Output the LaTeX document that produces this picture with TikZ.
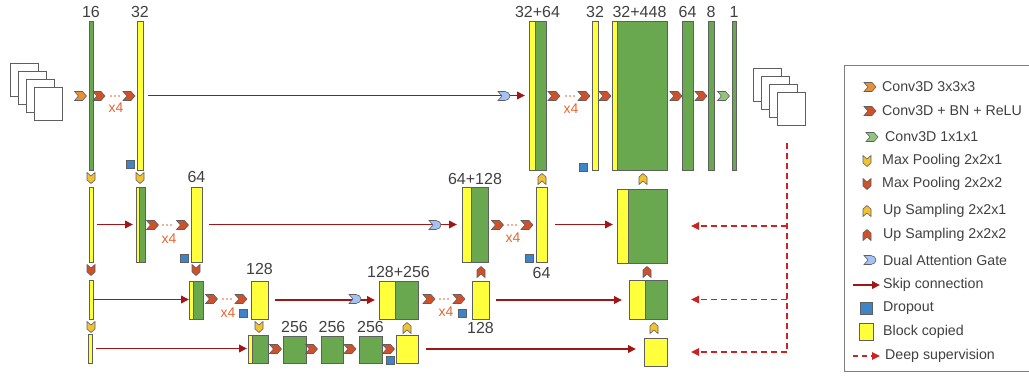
\documentclass[tikz,border=0pt]{standalone}
\usepackage{fontspec}
\setmainfont{Liberation Sans}
\usetikzlibrary{arrows.meta,calc}
\definecolor{gr}{HTML}{6AA84F}
\definecolor{yl}{HTML}{FFFF3C}
\definecolor{ol}{HTML}{5F5F5F}
\definecolor{cor}{HTML}{E69138}
\definecolor{cred}{HTML}{D0502A}
\definecolor{clg}{HTML}{93C47D}
\definecolor{cyl}{HTML}{F1C232}
\definecolor{cdag}{HTML}{A4C2F4}
\definecolor{cdrop}{HTML}{3D85C6}
\definecolor{skipc}{HTML}{A01515}
\definecolor{deepc}{HTML}{CC2222}
\definecolor{xfour}{HTML}{E2662F}
\definecolor{txt}{HTML}{404040}
\newcommand\blk[6]{\node[blk,fill=#6,minimum width={(#4-#2)*1pt},minimum height={(#5-#3)*1pt},anchor=north west] (#1) at (#2,#3) {};}
\tikzset{
 blk/.style={draw=ol,line width=0.8pt,inner sep=0pt,outer sep=0pt},
 chv/.style={draw=ol,line width=0.6pt,line join=miter},
 chevR/.pic={\path[chv,pic actions] (-6,-4.5) -- (2,-4.5) -- (6,0) -- (2,4.5) -- (-6,4.5) -- (-2,0) -- cycle;},
 chevD/.pic={\path[chv,pic actions] (-4,-5.5) -- (0,-2) -- (4,-5.5) -- (4,2) -- (0,5.5) -- (-4,2) -- cycle;},
 chevU/.pic={\path[chv,pic actions] (-4,5.5) -- (0,2) -- (4,5.5) -- (4,-2) -- (0,-5.5) -- (-4,-2) -- cycle;},
 dagc/.pic={\path[chv,pic actions] (-6,-4.5) -- (1,-4.5) .. controls (4,-4.5) and (6,-2) .. (6,0) .. controls (6,2) and (4,4.5) .. (1,4.5) -- (-6,4.5) -- (-2,0) -- cycle;},
 lbl/.style={font=\fontsize{16}{16}\selectfont,text=txt,inner sep=0pt},
 xf/.style={font=\fontsize{14}{14}\selectfont,text=xfour,inner sep=0pt},
 dts/.style={draw=xfour,line width=1.7pt,line cap=round,dash pattern=on 0pt off 4pt},
 skip/.style={draw=skipc,line width=1.9pt,-{Triangle[length=8pt,width=7.5pt]}},
 deep/.style={draw=deepc,line width=1.6pt,dash pattern=on 6pt off 4pt},
 deeparr/.style={deep,-{Triangle[length=8pt,width=7.5pt]}},
 drop/.style={draw=ol,fill=cdrop,line width=0.5pt,inner sep=0pt,minimum size=8pt},
 img/.style={draw=ol,fill=white,line width=0.8pt,minimum width=28pt,minimum height=33pt,inner sep=0pt,anchor=north west},
 leg/.style={font=\fontsize{14.2}{14.2}\selectfont,text=txt,anchor=west,inner sep=0pt},
}
\begin{document}
\begin{tikzpicture}[x=1pt,y=-1pt]
\useasboundingbox (0,0) rectangle (1029,376);
% input / output stacks
\node[img] (in1) at (10,63) {};
\node[img] (in2) at (18,71) {};
\node[img] (in3) at (26,79) {};
\node[img] (in4) at (34,87) {};
\node[img] (out1) at (753,68) {};
\node[img] (out2) at (761,76) {};
\node[img] (out3) at (769,84) {};
\node[img] (out4) at (777,92) {};
% row 1
\blk{g16}{89}{21}{93}{170}{gr}
\blk{y32}{137}{21}{143}{170}{yl}
\blk{d1a}{529}{21}{535}{170}{yl}
\blk{d1b}{535}{21}{546}{170}{gr}
\blk{y32b}{592}{21}{598}{170}{yl}
\blk{d0a}{612}{21}{617}{170}{yl}
\blk{d0b}{617}{21}{667}{170}{gr}
\blk{g64}{682}{21}{693}{170}{gr}
\blk{g8}{708}{21}{714}{170}{gr}
\blk{g1}{732}{21}{736}{170}{gr}
% row 2
\blk{e2a}{89}{187}{93}{262}{yl}
\blk{e2b}{136}{187}{139}{262}{yl}
\blk{e2bg}{139}{187}{145}{262}{gr}
\blk{e2c}{191}{187}{202}{262}{yl}
\blk{d2a}{462}{187}{471}{262}{yl}
\blk{d2ag}{471}{187}{488}{262}{gr}
\blk{d2b}{536}{187}{547}{262}{yl}
\blk{f2a}{617}{189}{628}{263}{yl}
\blk{f2b}{628}{189}{667}{263}{gr}
% row 3
\blk{e3a}{89}{280}{93}{319}{yl}
\blk{e3b}{189}{281}{193}{319}{yl}
\blk{e3bg}{193}{281}{203}{319}{gr}
\blk{e3c}{251}{281}{268}{319}{yl}
\blk{d3a}{379}{281}{395}{319}{yl}
\blk{d3ag}{395}{281}{418}{319}{gr}
\blk{d3b}{472}{281}{489}{319}{yl}
\blk{f3a}{629}{280}{645}{319}{yl}
\blk{f3b}{645}{280}{667}{319}{gr}
% row 4
\blk{e4a}{88}{334}{92}{363}{yl}
\blk{e4b}{248}{335}{252}{363}{yl}
\blk{e4bg}{252}{335}{268}{363}{gr}
\blk{b1}{283}{336}{306}{363}{gr}
\blk{b2}{321}{336}{343}{363}{gr}
\blk{b3}{359}{336}{382}{363}{gr}
\blk{e4c}{396}{335}{418}{363}{yl}
\blk{f4}{644}{338}{667}{366}{yl}
% labels
\node[lbl,above=3pt] at (g16.north) {16};
\node[lbl,above=3pt] at (y32.north) {32};
\node[lbl,above=3pt] at ($(d1a.north west)!.5!(d1b.north east)$) {32+64};
\node[lbl,above=3pt] at (y32b.north) {32};
\node[lbl,above=3pt] at ($(d0a.north west)!.5!(d0b.north east)$) {32+448};
\node[lbl,above=3pt] at (g64.north) {64};
\node[lbl,above=3pt] at (g8.north) {8};
\node[lbl,above=3pt] at (g1.north) {1};
\node[lbl,above=4pt] at (e2c.north) {64};
\node[lbl,above=2pt] at ($(d2a.north west)!.5!(d2ag.north east)$) {64+128};
\node[lbl,below=5pt] at (d2b.south) {64};
\node[lbl,above=6pt] at (e3c.north) {128};
\node[lbl,above=3pt] at ($(d3a.north west)!.5!(d3ag.north east)$) {128+256};
\node[lbl,below=3pt] at (d3b.south) {128};
\node[lbl,above=3pt] at (b1.north) {256};
\node[lbl,above=3pt] at (b2.north) {256};
\node[lbl,above=3pt] at (b3.north) {256};
% skip connections
\draw[skip,shorten <=5pt,shorten >=4pt] (y32.east) -- (d1a.west);
\draw[skip,shorten <=4pt,shorten >=3pt] (e2a.east) -- (e2b.west);
\draw[skip,shorten <=7pt,shorten >=5pt] (e2c.east) -- (d2a.west);
\draw[skip,shorten <=8pt,shorten >=4pt] (d2b.east) -- (d2b.east -| f2a.west);
\draw[skip] (e3a.east) -- (e3a.east -| e3b.west);
\draw[skip,shorten <=7pt,shorten >=4pt] (e3c.east) -- (d3a.west);
\draw[skip,shorten <=7pt,shorten >=7pt] (d3b.east) -- (d3b.east -| f3a.west);
\draw[skip,shorten <=4pt,shorten >=1pt] (e4a.east) -- (e4a.east -| e4b.west);
\draw[skip,shorten <=8pt,shorten >=8pt] (e4c.east) -- (e4c.east -| f4.west);
% deep supervision
\coordinate (ds) at (787,143);
\draw[deep] (ds) -- (ds |- f4.east);
\draw[deeparr,shorten >=24pt] (ds |- f2b.east) -- (f2b.east);
\draw[deeparr,shorten >=24pt] (ds |- f3b.east) -- (f3b.east);
\draw[deeparr,shorten >=24pt] (ds |- f4.east) -- (f4.east);
% attention gates
\pic[fill=cdag] at (504,96) {dagc};
\pic[fill=cdag] at (435,225) {dagc};
\pic[fill=cdag] at (355,299) {dagc};
% row 1 chevrons
\pic[fill=cor] at (80.5,96) {chevR};
\pic[fill=cred] at (99,96) {chevR};
\draw[dts] (111,96) -- (120,96);
\pic[fill=cred] at (129,96) {chevR};
\node[xf] (x1) at (116,108) {x4};
\pic[fill=cred] at (554,96) {chevR};
\draw[dts] (566,96) -- (575,96);
\pic[fill=cred] at (584,96) {chevR};
\node[xf] (x2) at (571,109) {x4};
\pic[fill=cred] at (605,96) {chevR};
\pic[fill=cred] at (676,96) {chevR};
\pic[fill=cred] at (701,96) {chevR};
\pic[fill=clg] at (723.5,96) {chevR};
\node[drop] (dr1) at (130.5,164.5) {};
\node[drop] (dr2) at (583,167) {};
% row 2 chevrons
\pic[fill=cred] at (152.5,225) {chevR};
\draw[dts] (163,225) -- (172,225);
\pic[fill=cred] at (182.5,225) {chevR};
\node[xf] (x3) at (169,239) {x4};
\node[drop] (dr3) at (184,258) {};
\pic[fill=cred] at (497.5,225) {chevR};
\draw[dts] (508,225) -- (517,225);
\pic[fill=cred] at (527,225) {chevR};
\node[xf] (x4) at (513,238) {x4};
\node[drop] (dr4) at (529,258) {};
% row 3 chevrons
\pic[fill=cred] at (211.5,299) {chevR};
\draw[dts] (223,299) -- (232,299);
\pic[fill=cred] at (241,299) {chevR};
\node[xf] (x5) at (228,313) {x4};
\node[drop] (dr5) at (243.5,313) {};
\pic[fill=cred] at (429,299) {chevR};
\draw[dts] (440,299) -- (449,299);
\pic[fill=cred] at (459,299) {chevR};
\node[xf] (x6) at (446,312) {x4};
\node[drop] (dr6) at (462,313.5) {};
% row 4 chevrons
\pic[fill=cred] at (275.5,349) {chevR};
\pic[fill=cred] at (311.5,349) {chevR};
\pic[fill=cred] at (350,349) {chevR};
\pic[fill=cred] at (388.5,349) {chevR};
\node[drop] (dr7) at (390.5,360) {};
% pooling
\pic[fill=cyl] at (91,178) {chevD};
\pic[fill=cyl] at (140,178) {chevD};
\pic[fill=cred] at (91,270) {chevD};
\pic[fill=cred] at (196,270) {chevD};
\pic[fill=cyl] at (91,327) {chevD};
\pic[fill=cyl] at (259,327) {chevD};
% upsampling
\pic[fill=cyl] at (542,179) {chevU};
\pic[fill=cyl] at (643,179) {chevU};
\pic[fill=cred] at (481,272) {chevU};
\pic[fill=cred] at (647,272) {chevU};
\pic[fill=cyl] at (407,328) {chevU};
\pic[fill=cyl] at (654,328) {chevU};
% legend
\draw[draw=ol!80,line width=0.8pt] (1035,65) -- (844,65) -- (844,371) -- (1035,371);
\pic[fill=cor] at (870,87) {chevR};
\node[leg] (l1) at (882,87) {Conv3D 3x3x3};
\pic[fill=cred] at (870,111) {chevR};
\node[leg] (l2) at (882,111) {Conv3D + BN + ReLU};
\pic[fill=clg] at (872,137) {chevR};
\node[leg] (l3) at (885,137) {Conv3D 1x1x1};
\pic[fill=cyl] at (867,161) {chevD};
\node[leg] (l4) at (882,161) {Max Pooling 2x2x1};
\pic[fill=cred] at (867,184) {chevD};
\node[leg] (l5) at (882,184) {Max Pooling 2x2x2};
\pic[fill=cyl] at (867,211) {chevU};
\node[leg] (l6) at (883,211) {Up Sampling 2x2x1};
\pic[fill=cred] at (867,235) {chevU};
\node[leg] (l7) at (883,235) {Up Sampling 2x2x2};
\pic[fill=cdag] at (870,260) {dagc};
\node[leg] (l8) at (883,260) {Dual Attention Gate};
\coordinate (ls1) at (853,285);
\coordinate (ls2) at (880,285);
\draw[skip] (ls1) -- (ls2);
\node[leg] (l9) at (883,285) {Skip connection};
\node[drop,minimum size=12pt] (ldr) at (866,308) {};
\node[leg] (l10) at (883,308) {Dropout};
\node[blk,fill=yl,minimum width=14pt,minimum height=17pt] (lbc) at (866,331.5) {};
\node[leg] (l11) at (883,332) {Block copied};
\coordinate (ld1) at (853,356);
\coordinate (ld2) at (880,356);
\draw[deeparr,dash pattern=on 5pt off 4pt] (ld1) -- (ld2);
\node[leg] (l12) at (885,356) {Deep supervision};
\end{tikzpicture}
\end{document}
